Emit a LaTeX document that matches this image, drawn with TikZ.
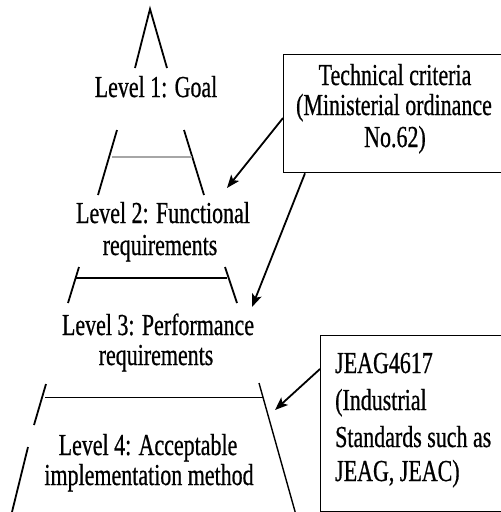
\documentclass[tikz,border=0pt]{standalone}
\usepackage{fontspec}
\setmainfont{Liberation Serif}[FakeStretch=0.72,FakeBold=0.6]
\usetikzlibrary{arrows.meta,calc}
\begin{document}
\begin{tikzpicture}[x=1pt,y=-1pt,
  txt/.style={anchor=base,inner sep=0pt,font=\fontsize{30.5}{34}\selectfont},
  txtl/.style={txt,anchor=base west},
  side/.style={line width=1.8pt},
  shelf/.style={line width=1.3pt},
  box/.style={draw,line width=1.3pt,anchor=north west,inner sep=0pt},
  ptr/.style={line width=1.8pt,-{Stealth[length=13pt,width=10pt,inset=3pt]}}]
\useasboundingbox (0,0) rectangle (501,512);
\begin{scope}
\clip (0,0) rectangle (501,512);

% pyramid: level 1 (apex)
\coordinate (apex) at (150,9);
\draw[side] (135,68) -- (apex) -- (167,68);
\node[txt] (l1) at (156,97) {Level 1: Goal};

% level 2
\draw[side] (117,130) -- (98,195);
\draw[side] (184,130) -- (204,195);
\draw[line width=2.6pt,gray!70] (112,157) -- (192,157);
\node[txt] (l2a) at (163,223) {Level 2: Functional};
\node[txt] (l2b) at (160,255) {requirements};

% level 3
\draw[side] (79,267) -- (68,303);
\draw[side] (225,267) -- (237,303);
\draw[shelf] (76,278) -- (227,278);
\node[txt] (l3a) at (158,335) {Level 3: Performance};
\node[txt] (l3b) at (156,365) {requirements};

% level 4 (base)
\draw[side] (46,384) -- (34,425);
\draw[side] (28,447) -- (12,512);
\draw[shelf,line width=1pt] (45,397) -- (263,397);
\draw[side,line width=1.4pt] (259,383) -- (296,515);
\node[txt] (l4a) at (148,455) {Level 4: Acceptable};
\node[txt] (l4b) at (149,485) {implementation method};

% technical criteria box
\node[box,minimum width=240pt,minimum height=118pt] (tc) at (283,54) {};
\node[txt] (tc1) at (395,85) {Technical criteria};
\node[txt] (tc2) at (394,115) {(Ministerial ordinance};
\node[txt] (tc3) at (395,147) {No.62)};

% industrial standards box
\node[box,minimum width=200pt,minimum height=176pt] (jb) at (320,335) {};
\node[txtl] (jb1) at (335,373) {JEAG4617};
\node[txtl] (jb2) at (335,410) {(Industrial};
\node[txtl] (jb3) at (335,447) {Standards such as};
\node[txtl] (jb4) at (335,481) {JEAG, JEAC)};

% pointers from the boxes to the levels
\coordinate (t1) at (227,188);
\coordinate (t2) at (252,307);
\coordinate (t3) at (275,410);
\draw[ptr] ($(tc.north west)+(0,64)$) -- (t1);
\draw[ptr] ($(tc.south west)+(22,0)$) -- (t2);
\draw[ptr] ($(jb.north west)+(0,34)$) -- (t3);
\end{scope}
\end{tikzpicture}
\end{document}
